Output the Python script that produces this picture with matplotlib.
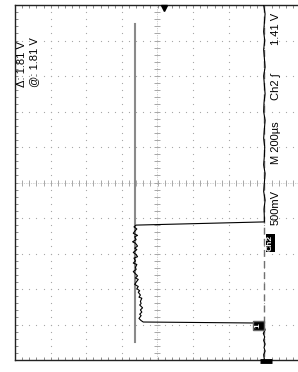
import numpy as np
import matplotlib
matplotlib.use("Agg")
from matplotlib import pyplot as plt

# scope settings (screen is rotated: time runs down, volts run left)
volts_per_div = 0.5
us_per_div = 200
ground_div = 7          # ground sits 7 divisions from the left edge
trigger_level = 1.41
cursor_level = 1.81

# Ch2 trace: time (us) and voltage (V)
trace_t = [-1000, -950, -900, -850, -800, -750, -700, -650, -600, -550,
           -500, -450, -400, -350, -300, -250, -200, -150, -100, -50,
           0, 50, 100, 150, 200, 222,
           240,
           250, 262, 270, 286, 298, 306, 322, 334, 342, 358,
           370, 378, 394, 406, 418, 426, 442, 454, 462, 478,
           490, 502, 510, 526, 538, 546, 562, 574, 586, 598,
           610, 618, 634, 646, 652, 670, 682, 690, 706, 718,
           730, 742, 750, 766, 778, 786,
           792, 810, 830, 850, 870, 890, 910, 930, 950, 970, 1000]
trace_v = [0.01, -0.01, 0.0, 0.01, -0.005, 0.01, 0.0, -0.01, 0.01, 0.0,
           -0.01, 0.005, 0.01, -0.01, 0.0, 0.01, -0.005, 0.0, 0.01, -0.01,
           0.0, 0.01, -0.01, 0.005, 0.0, 0.0,
           1.80,
           1.83, 1.79, 1.81, 1.84, 1.78, 1.82, 1.80, 1.85, 1.81, 1.78,
           1.82, 1.79, 1.84, 1.80, 1.78, 1.83, 1.81, 1.84, 1.79, 1.81,
           1.80, 1.84, 1.82, 1.78, 1.81, 1.77, 1.80, 1.82, 1.77, 1.79,
           1.75, 1.77, 1.74, 1.76, 1.72, 1.74, 1.73, 1.75, 1.71, 1.74,
           1.72, 1.75, 1.73, 1.76, 1.73, 1.70,
           0.0, 0.01, -0.01, 0.015, -0.005, 0.01, -0.01, 0.005, -0.01, 0.01, 0.0]

readout_left = ["Δ: 1.81 V", "@: 1.81 V"]
readout_right = ["1.41 V", "Ch2 ∫", "M 200µs", "500mV"]

W, H = 298, 372
fig = plt.figure(figsize=(W / 100, H / 100), dpi=100)
fig.patch.set_facecolor("white")

# graticule in pixels: left 15, top 5, bottom 360, 35.625 px per div
px_div = 35.625
ax = fig.add_axes([15 / W, 1 - 360 / H, 8 * px_div / W, 355 / H])
v_left = ground_div * volts_per_div
v_right = v_left - 8 * volts_per_div
t_top, t_bot = -5 * us_per_div, 5 * us_per_div
ax.set_xlim(v_left, v_right)
ax.set_ylim(t_bot, t_top)

grid_c = "#a8a8a8"
minor_v = np.arange(v_left, v_right - 0.01, -volts_per_div / 5)
minor_t = np.arange(t_top, t_bot + 1, us_per_div / 5)

# dotted division lines
for k in range(1, 8):
    v = v_left - k * volts_per_div
    if k == 4:
        continue
    ax.plot([v] * len(minor_t), minor_t, ls="none", marker="s", ms=0.8,
            mec="none", color=grid_c)
for k in range(1, 10):
    t = t_top + k * us_per_div
    if k == 5:
        continue
    ax.plot(minor_v, [t] * len(minor_v), ls="none", marker="s", ms=0.8,
            mec="none", color=grid_c)

# centre crosshair with tick marks
v_mid = v_left - 4 * volts_per_div
ax.plot([v_mid] * len(minor_t), minor_t, ls=(0, (1, 1.5)), lw=0.5, color=grid_c,
        marker="_", ms=4, mew=0.7)
ax.plot(minor_v, [0] * len(minor_v), ls=(0, (1, 1.5)), lw=0.5, color=grid_c,
        marker="|", ms=4, mew=0.7)

# border ticks
ax.set_xticks(minor_v)
ax.set_yticks(minor_t)
ax.tick_params(direction="in", length=2.5, width=0.6, color="#777777",
               top=True, bottom=True, left=True, right=False,
               labelbottom=False, labelleft=False)
for s in ["left", "top", "bottom"]:
    ax.spines[s].set_linewidth(1.0)
    ax.spines[s].set_color("#222222")
ax.spines["right"].set_visible(False)

# cursors
ax.plot([0, 0], [t_top, t_bot], color="#707070", lw=1.0, ls=(0, (5, 3)))
ax.plot([cursor_level, cursor_level], [-893, 899], color="#8a8a8a", lw=1.5)

# trace
ax.plot(trace_v, trace_t, color="black", lw=0.8, zorder=5)

# markers
font = ["Liberation Sans", "DejaVu Sans"]
ax.plot([trigger_level], [t_top + 18], marker="v", ms=5, color="black",
        clip_on=False, zorder=6)
ax.plot([-0.02], [t_bot + 6], marker="_", ms=8, mew=3.5, color="black",
        clip_on=False, zorder=6)
ax.text(0.085, 805, "1", rotation=90, ha="center", va="center", fontsize=6,
        color="white", weight="bold", family=font, zorder=7,
        bbox=dict(boxstyle="square,pad=0.25", fc="black", ec="#666666", lw=1.0))
ax.text(-0.08, 341, "Ch2", rotation=90, ha="center", va="center",
        fontsize=6, color="white", weight="bold", family=font, zorder=7,
        bbox=dict(boxstyle="square,pad=0.12", fc="black", ec="none"))

# readouts (rotated text)
fig.text(22 / W, 1 - 87 / H, readout_left[0], rotation=90, ha="center",
         va="bottom", fontsize=8, family=font)
fig.text(34 / W, 1 - 87 / H, readout_left[1], rotation=90, ha="center",
         va="bottom", fontsize=8, family=font)
right_bottoms = [45, 100, 164, 225]
for label, yb in zip(readout_right, right_bottoms):
    fig.text(276 / W, 1 - yb / H, label, rotation=90, ha="center", va="bottom",
             fontsize=8, family=font)

fig.savefig("out.png", dpi=100)
